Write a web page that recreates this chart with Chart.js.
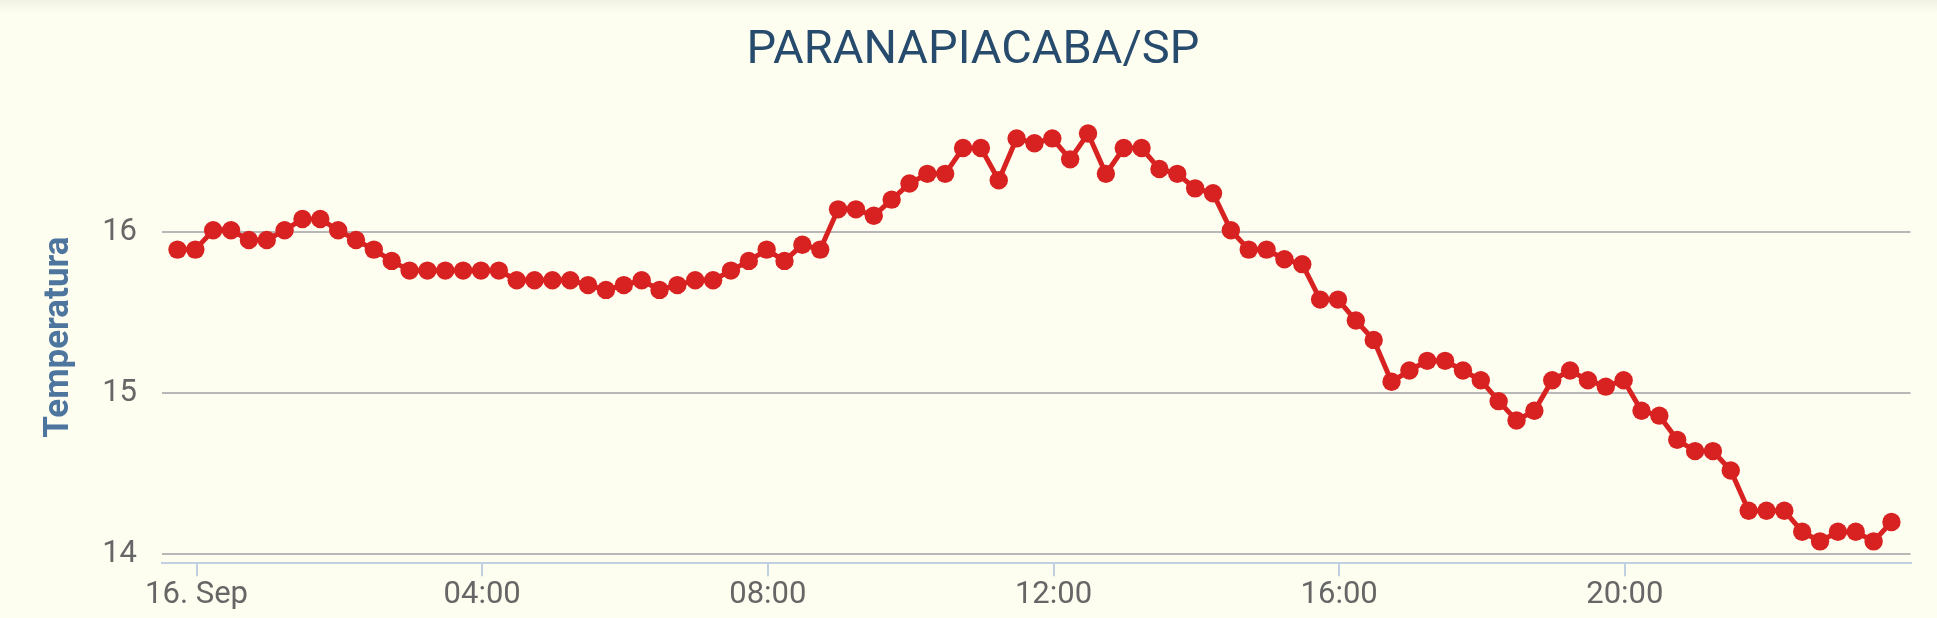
<!DOCTYPE html>
<html>
<head>
<meta charset="utf-8">
<title>PARANAPIACABA/SP</title>
<script src="https://cdn.jsdelivr.net/npm/chart.js@4.4.1/dist/chart.umd.min.js"></script>
<style>
  html, body { margin: 0; padding: 0; background: #fefef0; }
  canvas { display: block; }
</style>
</head>
<body>
<canvas id="tempChart" width="1937" height="618"></canvas>
<script>
// readings every 15 minutes, from 23:44 on 15 Sep to 23:44 on 16 Sep (minutes from midnight)
const firstReading = -16;
const readingStep = 15;

// temperature (°C), one per reading
const temperatures = [
  15.89, 15.89, 16.01, 16.01, 15.95, 15.95, 16.01, 16.08, 16.08, 16.01,
  15.95, 15.89, 15.82, 15.76, 15.76, 15.76, 15.76, 15.76, 15.76, 15.70,
  15.70, 15.70, 15.70, 15.67, 15.64, 15.67, 15.70, 15.64, 15.67, 15.70,
  15.70, 15.76, 15.82, 15.89, 15.82, 15.92, 15.89, 16.14, 16.14, 16.10,
  16.20, 16.30, 16.36, 16.36, 16.52, 16.52, 16.32, 16.58, 16.55, 16.58,
  16.45, 16.61, 16.36, 16.52, 16.52, 16.39, 16.36, 16.27, 16.24, 16.01,
  15.89, 15.89, 15.83, 15.80, 15.58, 15.58, 15.45, 15.33, 15.07, 15.14,
  15.20, 15.20, 15.14, 15.08, 14.95, 14.83, 14.89, 15.08, 15.14, 15.08,
  15.04, 15.08, 14.89, 14.86, 14.71, 14.64, 14.64, 14.52, 14.27, 14.27,
  14.27, 14.14, 14.08, 14.14, 14.14, 14.08, 14.20
];

// axis ticks
const xTickMinutes = [0, 240, 480, 720, 960, 1200];
const xTickLabels = ['16. Sep', '04:00', '08:00', '12:00', '16:00', '20:00'];
const yTickValues = [14, 15, 16];

const points = temperatures.map((t, i) => ({ x: firstReading + i * readingStep, y: t }));

const background = {
  id: 'background',
  beforeDraw(chart) {
    const ctx = chart.ctx;
    ctx.save();
    ctx.fillStyle = '#fefef0';
    ctx.fillRect(0, 0, chart.width, chart.height);
    // faint shadow along the top edge
    const g = ctx.createLinearGradient(0, 0, 0, 14);
    g.addColorStop(0, 'rgba(0,0,0,0.05)');
    g.addColorStop(1, 'rgba(0,0,0,0)');
    ctx.fillStyle = g;
    ctx.fillRect(0, 0, chart.width, 14);
    ctx.restore();
  }
};

new Chart(document.getElementById('tempChart'), {
  type: 'line',
  data: {
    datasets: [{
      label: 'Temperatura',
      data: points,
      borderColor: '#d82222',
      backgroundColor: '#d82222',
      borderWidth: 5,
      pointRadius: 9.2,
      pointBorderWidth: 0,
      pointBackgroundColor: '#d82222',
      tension: 0,
      clip: false
    }]
  },
  plugins: [background],
  options: {
    responsive: false,
    animation: false,
    layout: { padding: { left: 35.5, right: 26.5, top: 0, bottom: 0 } },
    plugins: {
      legend: { display: false },
      tooltip: { enabled: false },
      title: {
        display: true,
        text: 'PARANAPIACABA/SP',
        color: '#274b6d',
        font: { family: 'Roboto', size: 47, weight: 'normal' },
        padding: { top: 23, bottom: 31.6 }
      }
    },
    scales: {
      x: {
        type: 'linear',
        min: -29,
        max: 1440,
        afterBuildTicks: s => { s.ticks = xTickMinutes.map(v => ({ value: v })); },
        afterFit: s => { s.height = 54.7; },
        ticks: {
          color: '#666666',
          font: { family: 'Roboto', size: 31 },
          padding: 0,
          maxRotation: 0,
          autoSkip: false,
          callback: v => xTickLabels[xTickMinutes.indexOf(v)]
        },
        grid: {
          drawOnChartArea: false,
          drawTicks: true,
          tickLength: 13,
          color: '#c0d0e0',
          lineWidth: 2
        },
        border: { display: true, color: '#c0d0e0', width: 2 }
      },
      y: {
        type: 'linear',
        min: 13.944,
        max: 16.75,
        afterBuildTicks: s => { s.ticks = yTickValues.map(v => ({ value: v })); },
        afterFit: s => { s.width = 126.5; },
        title: {
          display: true,
          text: 'Temperatura',
          color: '#4d759e',
          font: { family: 'Roboto', size: 35, weight: 'bold' },
          padding: { top: 3, bottom: 0 }
        },
        ticks: {
          color: '#666666',
          font: { family: 'Roboto', size: 31 },
          padding: 25
        },
        grid: {
          drawTicks: false,
          color: '#b8b8b8',
          lineWidth: 2
        },
        border: { display: false }
      }
    }
  }
});
</script>
</body>
</html>
